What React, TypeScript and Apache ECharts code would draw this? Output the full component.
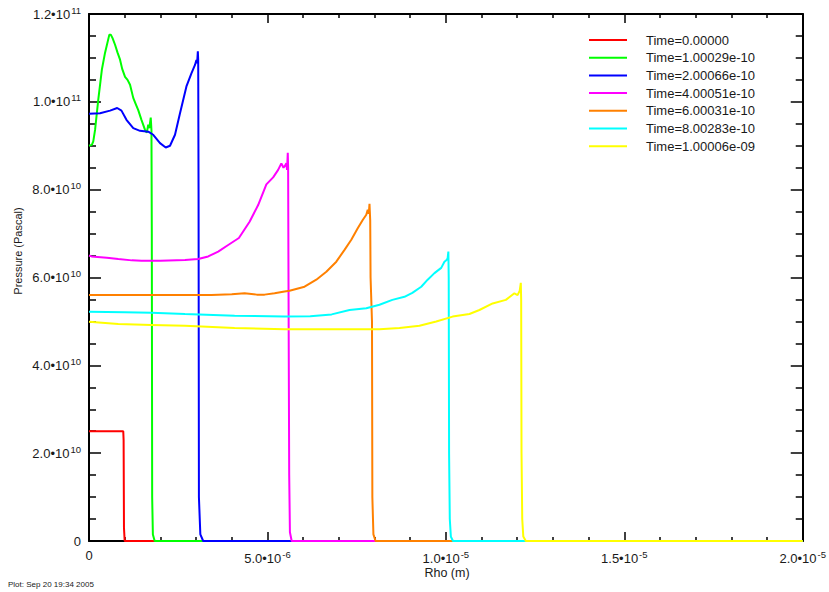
import React, { useEffect, useRef } from "react";
import * as echarts from "echarts";

// rho in units of 1e-6 m, pressure in units of 1e10 Pa
const RHO_UNIT = 1e-6;
const P_UNIT = 1e10;

const legendNames = [
  "Time=0.00000",
  "Time=1.00029e-10",
  "Time=2.00066e-10",
  "Time=4.00051e-10",
  "Time=6.00031e-10",
  "Time=8.00283e-10",
  "Time=1.00006e-09",
];

const seriesColors = ["#ff0000", "#00ff00", "#0000ff", "#ff00ff", "#ff8000", "#00ffff", "#ffff00"];

const xTickValues = [0, 5e-6, 1e-5, 1.5e-5, 2e-5];
const yTickValues = [0, 2e10, 4e10, 6e10, 8e10, 1e11, 1.2e11];

const t0: [number, number][] = [
  [0, 2.5], [0.96, 2.5], [0.97, 2.3], [0.98, 0.3], [1.0, 0], [20, 0],
];

const t1: [number, number][] = [
  [0, 9.0], [0.08, 9.02], [0.12, 9.1], [0.17, 9.36], [0.26, 10.05], [0.36, 10.73],
  [0.45, 11.12], [0.57, 11.53], [0.61, 11.53], [0.66, 11.45], [0.73, 11.3], [0.8, 11.12],
  [0.87, 10.96], [0.93, 10.75], [1.01, 10.57], [1.08, 10.5], [1.15, 10.39], [1.24, 10.09],
  [1.31, 9.95], [1.38, 9.81], [1.47, 9.59], [1.57, 9.36], [1.62, 9.3], [1.66, 9.48],
  [1.69, 9.4], [1.73, 9.64], [1.75, 9.36], [1.76, 7.0], [1.77, 1.0], [1.79, 0.15],
  [1.84, 0], [20, 0],
];

const t2: [number, number][] = [
  [0, 9.73], [0.31, 9.74], [0.59, 9.8], [0.79, 9.86], [0.91, 9.8], [1.05, 9.59],
  [1.24, 9.4], [1.43, 9.34], [1.66, 9.32], [1.8, 9.25], [1.99, 9.06], [2.15, 8.96],
  [2.27, 9.0], [2.41, 9.25], [2.55, 9.74], [2.73, 10.35], [2.87, 10.65], [2.97, 10.84],
  [3.01, 10.95], [3.03, 10.88], [3.05, 11.15], [3.06, 10.95], [3.07, 8.0], [3.08, 1.0],
  [3.12, 0.15], [3.2, 0], [20, 0],
];

const t4: [number, number][] = [
  [0, 6.5], [0.07, 6.48], [0.5, 6.45], [0.82, 6.42], [1.2, 6.39], [1.47, 6.38],
  [2.0, 6.38], [2.69, 6.4], [3.06, 6.42], [3.34, 6.48], [3.62, 6.59], [3.9, 6.74],
  [4.2, 6.9], [4.5, 7.27], [4.74, 7.65], [4.97, 8.12], [5.16, 8.28],
  [5.3, 8.45], [5.39, 8.6], [5.45, 8.5], [5.48, 8.53], [5.53, 8.6], [5.55, 8.45],
  [5.57, 8.84], [5.58, 8.5], [5.59, 6.0], [5.61, 1.5], [5.63, 0.2], [5.68, 0], [20, 0],
];

const t6: [number, number][] = [
  [0, 5.6], [1.0, 5.6], [2.0, 5.6], [3.43, 5.6], [4.0, 5.62], [4.36, 5.64],
  [4.7, 5.61], [4.92, 5.61], [5.2, 5.64], [5.48, 5.68], [5.62, 5.7], [6.04, 5.79],
  [6.37, 5.95], [6.65, 6.13], [6.93, 6.36], [7.16, 6.63], [7.35, 6.86], [7.53, 7.12],
  [7.67, 7.31], [7.77, 7.43], [7.81, 7.54], [7.84, 7.45], [7.86, 7.68], [7.88, 7.3],
  [7.89, 6.0], [7.93, 5.0], [7.94, 1.0], [7.97, 0.15], [8.03, 0], [20, 0],
];

const t8: [number, number][] = [
  [0, 5.22], [1.0, 5.21], [1.75, 5.2], [2.69, 5.17], [4.08, 5.13], [5.48, 5.11],
  [6.2, 5.12], [6.8, 5.16], [7.3, 5.26], [7.77, 5.3], [8.14, 5.38], [8.5, 5.49],
  [8.84, 5.56], [9.06, 5.65], [9.31, 5.79], [9.49, 5.95], [9.68, 6.1], [9.87, 6.22],
  [9.96, 6.36], [10.02, 6.4], [10.05, 6.44], [10.07, 6.59], [10.08, 6.0], [10.09, 2.0],
  [10.11, 0.5], [10.14, 0.1], [10.2, 0], [20, 0],
];

const t10: [number, number][] = [
  [0, 4.99], [0.82, 4.94], [1.75, 4.92], [2.69, 4.9], [4.08, 4.85], [5.48, 4.82],
  [7.0, 4.82], [8.14, 4.82], [8.7, 4.85], [9.26, 4.9], [9.73, 5.0], [10.19, 5.11],
  [10.66, 5.17], [10.94, 5.26], [11.31, 5.41], [11.68, 5.49], [11.92, 5.64], [12.01, 5.6],
  [12.07, 5.7], [12.1, 5.88], [12.11, 5.5], [12.12, 2.0], [12.14, 0.5], [12.17, 0.1],
  [12.24, 0], [20, 0],
];

const allSeries = [t0, t1, t2, t4, t6, t8, t10];

const FONT = "'Liberation Sans', Arial, Helvetica, sans-serif";
const TEXT_COLOR = "#1a1a1a";

function sciLabel(v: number): string {
  if (Math.abs(v) < 1e-30) return "0";
  const [m, e] = v.toExponential(1).split("e");
  return `{m|${m}\u202210}{s|${Number(e)}}`;
}

const richStyle = {
  m: { fontSize: 13, fontFamily: FONT, color: TEXT_COLOR },
  s: { fontSize: 9.5, fontFamily: FONT, color: TEXT_COLOR, padding: [0, 0, 8, 1] },
};

export default function App() {
  const ref = useRef<HTMLDivElement>(null);
  useEffect(() => {
    if (!ref.current) return;
    const chart = echarts.init(ref.current, undefined, { renderer: "svg" });

    const axisLine = { show: true, onZero: false, lineStyle: { color: "#000", width: 2 } };

    const xBase = {
      type: "value" as const,
      min: xTickValues[0],
      max: xTickValues[xTickValues.length - 1],
      interval: xTickValues[1] - xTickValues[0],
      axisLine,
      axisTick: { show: true, inside: true, length: 9, lineStyle: { color: "#000", width: 1.5 } },
      minorTick: { show: true, splitNumber: 5, length: 4, lineStyle: { color: "#000", width: 1.5 } },
      splitLine: { show: false },
      minorSplitLine: { show: false },
    };
    const yBase = {
      type: "value" as const,
      min: yTickValues[0],
      max: yTickValues[yTickValues.length - 1],
      interval: yTickValues[1] - yTickValues[0],
      axisLine,
      axisTick: { show: true, inside: true, length: 12, lineStyle: { color: "#000", width: 1.5 } },
      minorTick: { show: true, splitNumber: 4, length: 7, lineStyle: { color: "#000", width: 1.5 } },
      splitLine: { show: false },
      minorSplitLine: { show: false },
    };

    chart.setOption({
      animation: false,
      backgroundColor: "#ffffff",
      grid: { left: 89, right: 25, top: 14, bottom: 51, containLabel: false },
      xAxis: [
        {
          ...xBase,
          position: "bottom",
          axisLabel: {
            show: true,
            margin: 8,
            formatter: sciLabel,
            fontSize: 13,
            fontFamily: FONT,
            color: TEXT_COLOR,
            rich: richStyle,
            showMaxLabel: true,
            showMinLabel: true,
          },
        },
        { ...xBase, position: "top", axisLabel: { show: false } },
      ],
      yAxis: [
        {
          ...yBase,
          position: "left",
          axisLabel: {
            show: true,
            margin: 8,
            formatter: sciLabel,
            fontSize: 13,
            fontFamily: FONT,
            color: TEXT_COLOR,
            rich: richStyle,
          },
        },
        { ...yBase, position: "right", axisLabel: { show: false } },
      ],
      legend: {
        show: true,
        orient: "vertical",
        left: 589,
        top: 33,
        padding: 0,
        itemWidth: 38,
        itemHeight: 2,
        itemGap: 3.7,
        icon: "rect",
        selectedMode: false,
        textStyle: {
          fontSize: 13,
          fontFamily: FONT,
          color: TEXT_COLOR,
          lineHeight: 14,
          padding: [0, 0, 0, 14],
        },
        data: legendNames,
      },
      series: allSeries.map((pts, i) => ({
        name: legendNames[i],
        type: "line",
        xAxisIndex: 0,
        yAxisIndex: 0,
        symbol: "none",
        showSymbol: false,
        lineStyle: { color: seriesColors[i], width: 2 },
        itemStyle: { color: seriesColors[i] },
        data: pts.map(([r, p]) => [r * RHO_UNIT, p * P_UNIT]),
        z: 2 + i,
      })),
      graphic: [
        {
          type: "text",
          x: 18,
          y: 251,
          rotation: Math.PI / 2,
          style: {
            text: "Pressure (Pascal)",
            fontSize: 11,
            fontFamily: FONT,
            fill: TEXT_COLOR,
            align: "center",
            verticalAlign: "middle",
          },
        },
        {
          type: "text",
          x: 447,
          y: 573,
          style: {
            text: "Rho (m)",
            fontSize: 12.5,
            fontFamily: FONT,
            fill: TEXT_COLOR,
            align: "center",
            verticalAlign: "middle",
          },
        },
        {
          type: "text",
          x: 8,
          y: 584.5,
          style: {
            text: "Plot: Sep 20 19:34 2005",
            fontSize: 8,
            fontFamily: FONT,
            fill: TEXT_COLOR,
            align: "left",
            verticalAlign: "middle",
          },
        },
      ],
    });
    return () => chart.dispose();
  }, []);

  return (
    <div
      ref={ref}
      style={{ position: "absolute", left: 0, top: 0, width: 829, height: 592 }}
    />
  );
}
